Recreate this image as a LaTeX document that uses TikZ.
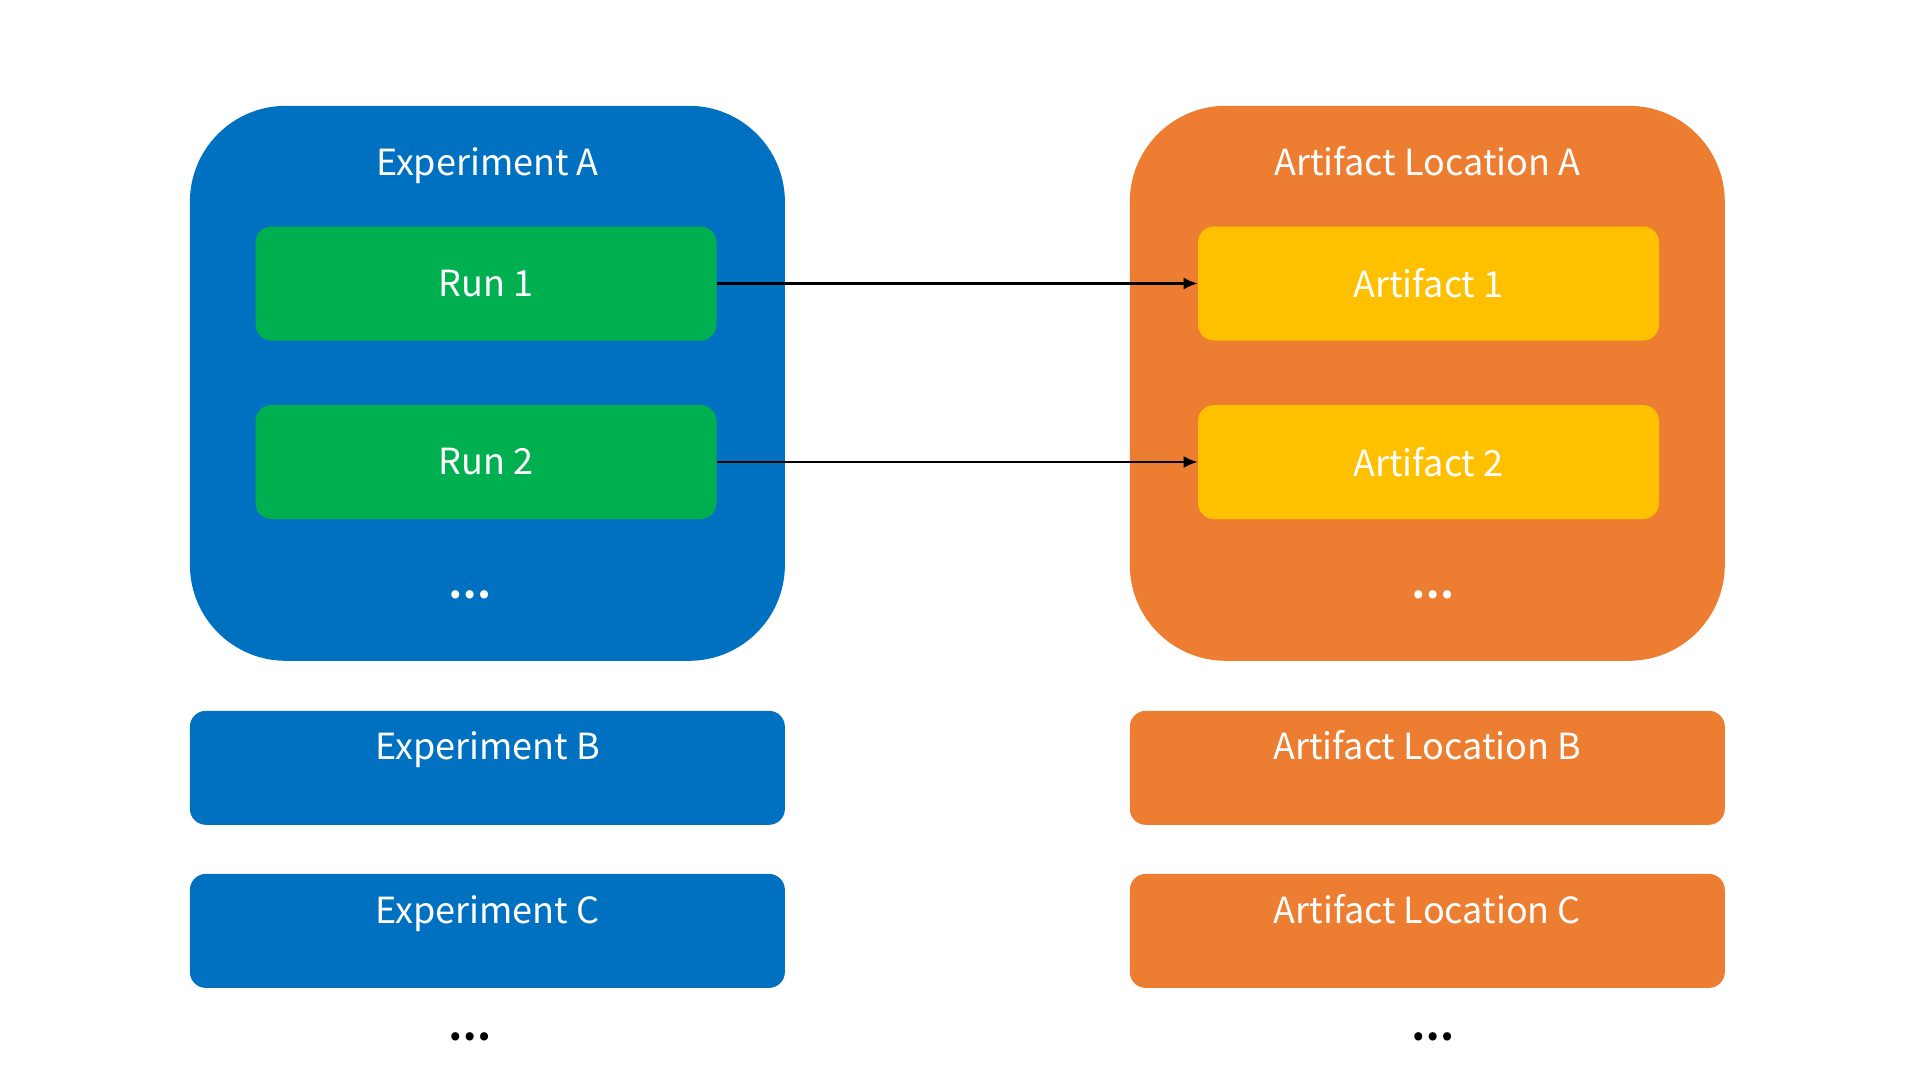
\documentclass[tikz,border=0pt]{standalone}
\usepackage{fontspec}
\setmainfont{Noto Sans CJK JP}
\usepackage{tikz}
\usetikzlibrary{arrows.meta,positioning}

\definecolor{expblue}{HTML}{0070C0}
\definecolor{rungreen}{HTML}{00B050}
\definecolor{locorange}{HTML}{ED7D31}
\definecolor{artyellow}{HTML}{FFC000}

\begin{document}
\begin{tikzpicture}[x=0.5pt,y=-0.5pt,>={Latex[length=7pt,width=6pt]}]
    \tikzstyle{box}=[rectangle,draw=none,inner sep=0pt,text=white]
    \tikzstyle{big box}=[box,minimum width=297.5pt,minimum height=277.5pt,rounded corners=48pt]
    \tikzstyle{small box}=[box,minimum width=297.5pt,minimum height=57pt,rounded corners=8pt]
    \tikzstyle{item}=[box,minimum width=230.5pt,minimum height=57pt,rounded corners=8pt,font=\fontsize{18}{21}\selectfont]
    \tikzstyle{title}=[anchor=base,text=white,font=\fontsize{18}{21}\selectfont]
    \tikzstyle{more}=[font=\bfseries\fontsize{19}{22}\selectfont]
    \tikzstyle{link}=[->,black,line width=1.1pt]

    \useasboundingbox (0,0) rectangle (1908,1078);

    % experiments
    \node[big box,fill=expblue] (E-A) at (487.4,383.3) {};
    \node[title] (T-EA) at (487.4,175.5) {Experiment A};
    \node[item,fill=rungreen] (R-1) at (486,283.5) {Run 1};
    \node[item,fill=rungreen] (R-2) at (486,462) {Run 2};
    \node[more,text=white] (D-E) at (470,595) {…};
    \node[small box,fill=expblue] (E-B) at (487.4,767.8) {};
    \node[title] (T-EB) at (487.4,759) {Experiment B};
    \node[small box,fill=expblue] (E-C) at (487.4,930.9) {};
    \node[title] (T-EC) at (487.4,923) {Experiment C};
    \node[more] (D-EX) at (470,1037) {…};

    % artifact locations
    \node[big box,fill=locorange] (L-A) at (1427.3,383.3) {};
    \node[title] (T-LA) at (1427.3,175.5) {Artifact Location A};
    \node[item,fill=artyellow] (A-1) at (1428.5,283.5) {Artifact 1};
    \node[item,fill=artyellow] (A-2) at (1428.5,462) {Artifact 2};
    \node[more,text=white] (D-L) at (1433,595) {…};
    \node[small box,fill=locorange] (L-B) at (1427.3,767.8) {};
    \node[title] (T-LB) at (1427.3,759) {Artifact Location B};
    \node[small box,fill=locorange] (L-C) at (1427.3,930.9) {};
    \node[title] (T-LC) at (1427.3,923) {Artifact Location C};
    \node[more] (D-LX) at (1433,1037) {…};

    \draw[link] (R-1) -- (A-1);
    \draw[link] (R-2) -- (A-2);
\end{tikzpicture}
\end{document}
